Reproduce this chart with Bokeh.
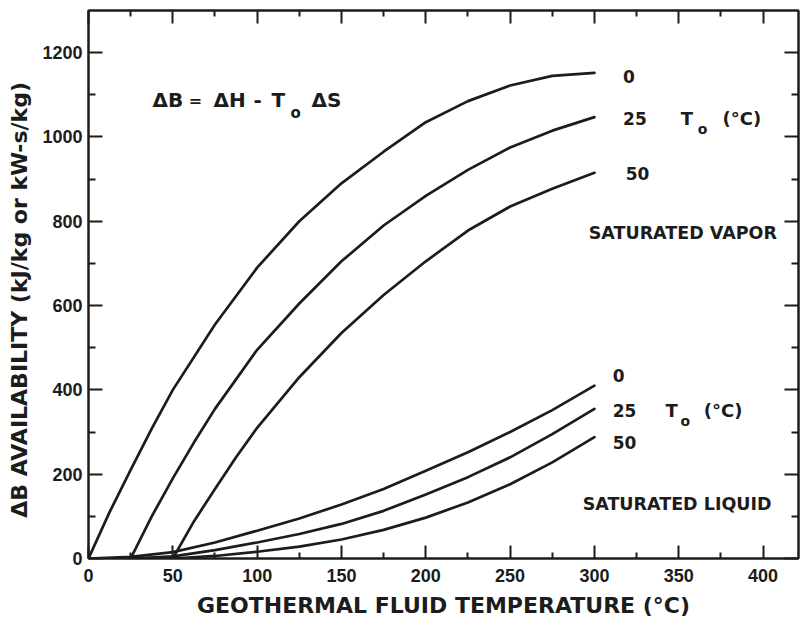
from bokeh.plotting import figure
from bokeh.models import Range1d, LinearAxis, FixedTicker
from bokeh.core.properties import value
from bokeh.embed import file_html
from bokeh.resources import INLINE

# ---- data ----
temp_v0 = [0, 12.5, 25, 37.5, 50, 75, 100, 125, 150, 175, 200, 225, 250, 275, 300]
vap_t0_0 = [0, 110, 210, 308, 400, 555, 690, 800, 890, 965, 1035, 1085, 1122, 1145, 1152]

temp_v25 = [25, 37.5, 50, 62.5, 75, 100, 125, 150, 175, 200, 225, 250, 275, 300]
vap_t0_25 = [0, 100, 190, 275, 355, 495, 605, 705, 790, 860, 922, 975, 1015, 1047]

temp_v50 = [50, 62.5, 75, 87.5, 100, 125, 150, 175, 200, 225, 250, 275, 300]
vap_t0_50 = [0, 88, 165, 240, 310, 430, 535, 625, 705, 778, 835, 877, 915]

temp_l0 = [0, 25, 50, 75, 100, 125, 150, 175, 200, 225, 250, 275, 300]
liq_t0_0 = [0, 4, 15, 38, 66, 95, 128, 165, 208, 252, 300, 352, 410]

temp_l25 = [25, 50, 75, 100, 125, 150, 175, 200, 225, 250, 275, 300]
liq_t0_25 = [0, 5, 20, 38, 58, 82, 113, 152, 193, 240, 295, 355]

temp_l50 = [50, 75, 100, 125, 150, 175, 200, 225, 250, 275, 300]
liq_t0_50 = [0, 6, 16, 28, 45, 68, 97, 133, 176, 228, 288]

x_major = [0, 50, 100, 150, 200, 250, 300, 350, 400]
x_minor = [25, 75, 125, 175, 225, 275, 325, 375]
y_major = [0, 200, 400, 600, 800, 1000, 1200]
y_minor = [100, 300, 500, 700, 900, 1100]

INK = "#1c1c1c"
TICK_FONT = "Liberation Sans"
FONT = "DejaVu Sans"

p = figure(width=800, height=625, output_backend="svg", toolbar_location=None,
           x_range=Range1d(0, 421), y_range=Range1d(0, 1300),
           min_border_left=88, min_border_right=2, min_border_top=10,
           min_border_bottom=67)
p.grid.visible = False
p.outline_line_color = INK
p.outline_line_width = 2
p.background_fill_color = "white"
p.border_fill_color = "white"

def style_axis(ax, major, minor, show_labels=True, tin=13, tmin=6):
    ax.ticker = FixedTicker(ticks=major, minor_ticks=minor)
    ax.axis_line_color = INK
    ax.axis_line_width = 2
    ax.major_tick_line_color = INK
    ax.major_tick_line_width = 2
    ax.minor_tick_line_color = INK
    ax.minor_tick_line_width = 2
    ax.major_tick_in = tin
    ax.major_tick_out = 0
    ax.minor_tick_in = tmin
    ax.minor_tick_out = 0
    ax.major_label_text_font = TICK_FONT
    ax.major_label_text_font_style = "bold"
    ax.major_label_text_color = INK
    ax.major_label_text_font_size = "18px"
    if not show_labels:
        ax.major_label_overrides = {float(t): "" for t in major}
        ax.major_label_standoff = 0

style_axis(p.xaxis[0], x_major, x_minor, tin=13, tmin=6)
p.xaxis.major_label_standoff = 10
p.xaxis.axis_label = "GEOTHERMAL FLUID TEMPERATURE (°C)"
p.xaxis.axis_label_text_font = FONT
p.xaxis.axis_label_text_font_style = "bold"
p.xaxis.axis_label_text_font_size = "22px"
p.xaxis.axis_label_text_color = INK
p.xaxis.axis_label_standoff = 8

style_axis(p.yaxis[0], y_major, y_minor, tin=14, tmin=7)
p.yaxis.major_label_standoff = 6
p.yaxis.major_label_orientation = "horizontal"
p.yaxis.axis_label = "ΔB AVAILABILITY (kJ/kg or kW-s/kg)" + "\u00a0" * 4
p.yaxis.axis_label_text_font = FONT
p.yaxis.axis_label_text_font_style = "bold"
p.yaxis.axis_label_text_font_size = "22px"
p.yaxis.axis_label_text_color = INK
p.yaxis.axis_label_standoff = 7

top = LinearAxis()
style_axis(top, x_major, x_minor, show_labels=False, tin=13, tmin=6)
p.add_layout(top, "above")
right = LinearAxis()
style_axis(right, y_major, y_minor, show_labels=False, tin=14, tmin=7)
p.add_layout(right, "right")

for xs, ys in [(temp_v0, vap_t0_0), (temp_v25, vap_t0_25), (temp_v50, vap_t0_50),
               (temp_l0, liq_t0_0), (temp_l25, liq_t0_25), (temp_l50, liq_t0_50)]:
    p.line(xs, ys, line_color=INK, line_width=2.7, line_join="round", line_cap="round")

def txt(x, y, s, size="18px", align="left"):
    p.text(x=[x], y=[y], text=[s], text_font=value(FONT), text_font_style="bold",
           text_font_size=size, text_color=INK, text_baseline="middle", text_align=align)

# equation  ΔB = ΔH - T_o ΔS
txt(38.0, 1087, "ΔB", size="20px")
txt(59.5, 1087, "=", size="16px")
txt(74.1, 1087, "ΔH", size="20px")
txt(97.9, 1087, "-", size="20px")
txt(108.5, 1087, "T", size="20px")
txt(119.8, 1058, "o", size="15px")
txt(132.3, 1087, "ΔS", size="20px")

# vapor labels
txt(317.0, 1143, "0", size="17px")
txt(317.0, 1044, "25", size="17px")
txt(351.2, 1044, "T", size="18px")
txt(361.2, 1020, "o", size="14px")
txt(376.0, 1044, "(°C)", size="18px")
txt(318.5, 913, "50", size="17px")
txt(296.6, 773, "SATURATED VAPOR", size="17.5px")

# liquid labels
txt(310.8, 434, "0", size="17px")
txt(310.8, 351, "25", size="17px")
txt(342.2, 351, "T", size="18px")
txt(351.1, 326, "o", size="14px")
txt(364.8, 351, "(°C)", size="18px")
txt(310.8, 275, "50", size="17px")
txt(293.0, 130, "SATURATED LIQUID", size="17.5px")

open("out.html", "w").write(file_html(p, INLINE))
